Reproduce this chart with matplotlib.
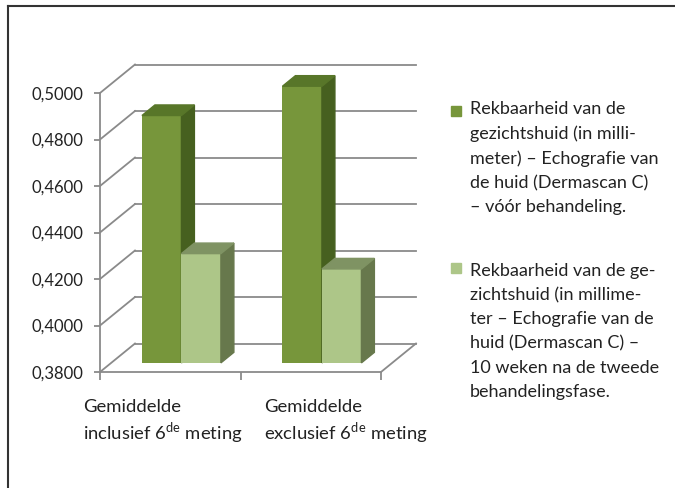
import numpy as np
import matplotlib.pyplot as plt
from matplotlib.patches import Polygon, Rectangle
from matplotlib.lines import Line2D

plt.rcParams['font.family'] = ['Lato', 'DejaVu Sans']
plt.rcParams['mathtext.fontset'] = 'custom'
plt.rcParams['mathtext.rm'] = 'Lato'

categories = ["Gemiddelde\ninclusief 6$^{\\mathrm{de}}$ meting",
              "Gemiddelde\nexclusief 6$^{\\mathrm{de}}$ meting"]
before = [0.4864, 0.4990]
after = [0.4270, 0.4204]
series_labels = [
    "Rekbaarheid van de\ngezichtshuid (in milli-\nmeter) – Echografie van\nde huid (Dermascan C)\n– vóór behandeling.",
    "Rekbaarheid van de ge-\nzichtshuid (in millime-\nter – Echografie van de\nhuid (Dermascan C) –\n10 weken na de tweede\nbehandelingsfase.",
]
yticks = [0.38, 0.40, 0.42, 0.44, 0.46, 0.48, 0.50]

# face colours: front, side, top
dark = ("#77963b", "#46601f", "#587629")
light = ("#adc688", "#67784c", "#7f9363")
grid_col = "#8a8a8a"

W, H = 675, 488
fig = plt.figure(figsize=(W / 100, H / 100), dpi=100)
ax = fig.add_axes([100 / W, 116 / H, 281 / W, 279 / H])
ax.set_xlim(0, 2)
ax.set_ylim(yticks[0], yticks[-1])

# oblique depth of the box, in data units
dx = 35 / 140.5
dy = 28.5 * (yticks[-1] - yticks[0]) / 279
f0, f1 = 0.32, 0.69   # bar front/back depth fraction

for s in ("top", "right"):
    ax.spines[s].set_visible(False)
for s in ("left", "bottom"):
    ax.spines[s].set_color(grid_col)
    ax.spines[s].set_linewidth(1.3)

ax.set_yticks(yticks)
ax.set_yticklabels([f"{v:.4f}".replace(".", ",") for v in yticks])
ax.tick_params(axis="y", length=4, width=1.3, color=grid_col, pad=8,
               labelsize=12, labelcolor="#222222")
ax.set_xticks([0, 1, 2])
ax.set_xticklabels([])
ax.tick_params(axis="x", length=6, width=1.3, color=grid_col)

# back wall gridlines and side diagonals
for v in yticks:
    ax.plot([dx, 2 + dx], [v + dy, v + dy], color=grid_col, lw=1.3,
            clip_on=False, zorder=1)
    ax.plot([0, dx], [v, v + dy], color=grid_col, lw=1.3,
            clip_on=False, zorder=1)
ax.plot([2, 2 + dx], [yticks[0], yticks[0] + dy], color=grid_col, lw=1.3,
        clip_on=False, zorder=1)

bw = 0.281
base = yticks[0]


def bar3d(x0, v, cols):
    front, side, top = cols
    x1 = x0 + bw
    ax.bar(x0 + f0 * dx, v - base, width=bw, bottom=base + f0 * dy,
           align="edge", color=front, zorder=3, clip_on=False)
    ax.add_patch(Polygon([(x1 + f0 * dx, base + f0 * dy),
                          (x1 + f1 * dx, base + f1 * dy),
                          (x1 + f1 * dx, v + f1 * dy),
                          (x1 + f0 * dx, v + f0 * dy)],
                         closed=True, color=side, zorder=3, clip_on=False))
    ax.add_patch(Polygon([(x0 + f0 * dx, v + f0 * dy),
                          (x1 + f0 * dx, v + f0 * dy),
                          (x1 + f1 * dx, v + f1 * dy),
                          (x0 + f1 * dx, v + f1 * dy)],
                         closed=True, color=top, zorder=3, clip_on=False))


for i in range(len(categories)):
    c = i + 0.5
    bar3d(c - bw, before[i], dark)
    bar3d(c, after[i], light)

# category labels under the floor
for i, lab in enumerate(categories):
    fig.text([83, 264][i] / W, 1 - 399 / H, lab, ha="left", va="top",
             fontsize=13.3, color="#222222", linespacing=1.28)

# legend
for cols, lab, sq, top in zip((dark, light), series_labels, (111, 268), (101, 263)):
    fig.add_artist(Rectangle((451 / W, 1 - (sq + 5) / H), 10 / W, 10 / H,
                             transform=fig.transFigure, color=cols[0]))
    fig.text(470 / W, 1 - top / H, lab, ha="left", va="top",
             fontsize=13, color="#222222", linespacing=1.62)

# frame around the chart area
fig.add_artist(Line2D([8 / W, 1], [1 - 6 / H, 1 - 6 / H],
                      transform=fig.transFigure, color="#333333", lw=1.5))
fig.add_artist(Line2D([8 / W, 8 / W], [0, 1 - 6 / H],
                      transform=fig.transFigure, color="#333333", lw=1.5))

fig.savefig("out.png", dpi=100)
